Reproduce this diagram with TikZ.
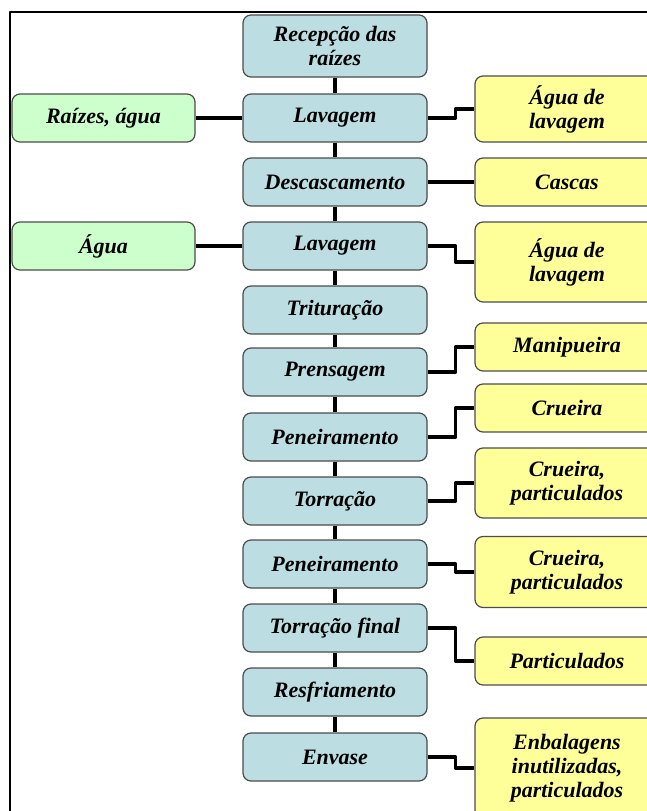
\documentclass[tikz,border=0pt]{standalone}
\usepackage{fontspec}
\setmainfont{Liberation Serif}
\definecolor{azul}{RGB}{188,222,227}
\definecolor{verde}{RGB}{204,255,204}
\definecolor{amarelo}{RGB}{255,255,153}
\begin{document}
\begin{tikzpicture}[x=1pt,y=-1pt,line join=round,
    font=\fontsize{22}{24}\selectfont\bfseries\itshape,
    caixa/.style={draw=black!70,line width=1.2pt,rounded corners=8pt,align=center,inner sep=2pt,minimum height=48pt},
    etapa/.style={caixa,fill=azul,minimum width=184pt},
    entrada/.style={caixa,fill=verde,minimum width=183pt},
    saida/.style={caixa,fill=amarelo,minimum width=184pt},
    liga/.style={line width=3.5pt}]
    \useasboundingbox (0,0) rectangle (647,811);
    \clip (0,0) rectangle (647,811);
    \draw[line width=2pt] (10,811) -- (10,12) -- (647,12);
    % etapas do processo
    \node[etapa,minimum height=62pt] (rec) at (335,46) {Recepção das\\raízes};
    \node[etapa] (lav1) at (335,118) {Lavagem};
    \node[etapa] (desc) at (335,182) {Descascamento};
    \node[etapa] (lav2) at (335,246) {Lavagem};
    \node[etapa] (trit) at (335,310) {Trituração};
    \node[etapa] (prens) at (335,372) {Prensagem};
    \node[etapa] (pen1) at (335,437) {Peneiramento};
    \node[etapa] (torr1) at (335,501) {Torração};
    \node[etapa] (pen2) at (335,564) {Peneiramento};
    \node[etapa] (torr2) at (335,628) {Torração final};
    \node[etapa] (resf) at (335,692) {Resfriamento};
    \node[etapa] (env) at (335,757) {Envase};
    % entradas
    \node[entrada] (raiz) at (103.5,118) {Raízes, água};
    \node[entrada] (agua) at (103.5,246) {Água};
    % saidas
    \node[saida,minimum height=66pt] (s1) at (567,109) {Água de\\lavagem};
    \node[saida] (s2) at (567,182) {Cascas};
    \node[saida,minimum height=80pt] (s3) at (567,262) {Água de\\lavagem};
    \node[saida] (s4) at (567,347) {Manipueira};
    \node[saida] (s5) at (567,408) {Crueira};
    \node[saida,minimum height=70pt] (s6) at (567,483) {Crueira,\\particulados};
    \node[saida,minimum height=71pt] (s7) at (567,572) {Crueira,\\particulados};
    \node[saida] (s8) at (567,661) {Particulados};
    \node[saida,minimum height=100pt] (s9) at (567,768) {Enbalagens\\inutilizadas,\\particulados};
    % ligacoes
    \foreach \a/\b in {rec/lav1,lav1/desc,desc/lav2,lav2/trit,trit/prens,prens/pen1,pen1/torr1,torr1/pen2,pen2/torr2,torr2/resf,resf/env}
        \draw[liga] (\a) -- (\b);
    \draw[liga] (raiz) -- (lav1);
    \draw[liga] (agua) -- (lav2);
    \draw[liga] (desc) -- (s2);
    \foreach \a/\b in {lav1/s1,lav2/s3,prens/s4,pen1/s5,torr1/s6,pen2/s7,torr2/s8,env/s9}
        \draw[liga] (\a.east) -- ++(28,0) |- (\b.west);
\end{tikzpicture}
\end{document}
